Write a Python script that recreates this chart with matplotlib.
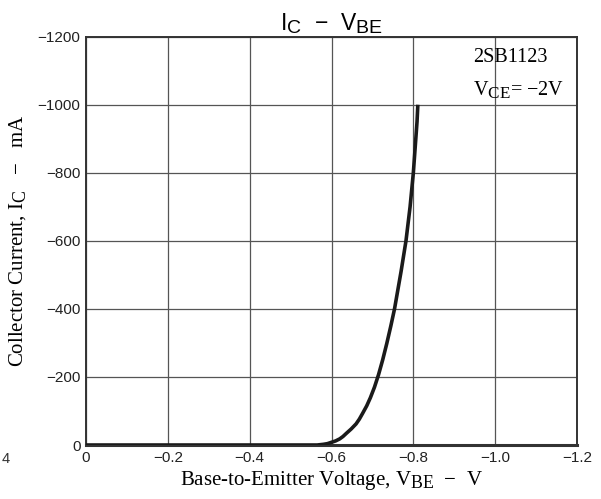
import matplotlib
matplotlib.use('Agg')
import matplotlib.pyplot as plt
import matplotlib._mathtext as mathtext_mod

# datasheet subscripts are only slightly smaller than the main text
mathtext_mod.SHRINK_FACTOR = 0.85

# values (V_BE in V, I_C in mA)
vbe = [0, -0.30, -0.565, -0.58, -0.59, -0.60, -0.61, -0.62, -0.628, -0.636, -0.648,
       -0.66, -0.668, -0.676, -0.686, -0.695, -0.705, -0.715, -0.725, -0.735,
       -0.745, -0.754, -0.762, -0.77, -0.776, -0.782, -0.787, -0.792, -0.796,
       -0.80, -0.803, -0.806, -0.809, -0.811]
ic = [0, 0, 0, -2, -4, -8, -12, -18, -25, -34, -47,
      -62, -76, -93, -115, -139, -170, -207, -250, -298,
      -350, -400, -455, -510, -555, -600, -650, -700, -750,
      -800, -850, -900, -950, -1000]

xticks = [0, -0.2, -0.4, -0.6, -0.8, -1.0, -1.2]
xlabels = ['0', '\u22120.2', '\u22120.4', '\u22120.6', '\u22120.8', '\u22121.0', '\u22121.2']
yticks = [0, -200, -400, -600, -800, -1000, -1200]
ylabels = ['0', '\u2212200', '\u2212400', '\u2212600', '\u2212800', '\u22121000', '\u22121200']

plt.rcParams['mathtext.fontset'] = 'custom'
plt.rcParams['mathtext.rm'] = 'Liberation Serif'
plt.rcParams['mathtext.sf'] = 'Liberation Sans'
plt.rcParams['font.family'] = ['Liberation Sans', 'DejaVu Sans']

fig = plt.figure(figsize=(6.01, 4.99), dpi=100)
ax = fig.add_axes([0.1431, 0.1082, 0.8170, 0.8183])

ax.plot(vbe, ic, color='#1a1a1a', lw=2.6, solid_capstyle='butt',
        solid_joinstyle='round', zorder=3)

ax.set_xlim(0, -1.2)
ax.set_ylim(0, -1200)
ax.set_xticks(xticks)
ax.set_xticklabels(xlabels)
ax.set_yticks(yticks)
ax.set_yticklabels(ylabels)
ax.tick_params(length=0, labelsize=11, colors='#222222', pad=4)
ax.grid(True, color='#555555', lw=0.9)
for s in ax.spines.values():
    s.set_color('#333333')
    s.set_linewidth(1.4)
ax.spines['bottom'].set_linewidth(2.2)

serif = ['Liberation Serif', 'DejaVu Serif']
ax.set_xlabel('Base-to-Emitter Voltage, V$\\mathrm{_{BE}}$  \u2212  V',
              family=serif, fontsize=15, labelpad=3)
ax.set_ylabel('Collector Current, I$\\mathrm{_C}$   \u2212   mA', family=serif,
              fontsize=15, labelpad=7)
ax.set_title('I$\\mathsf{_C}$  \u2212  V$\\mathsf{_{BE}}$', fontsize=16.5, pad=5)

ax.text(0.788, 0.939, '2SB1123', transform=ax.transAxes, ha='left', va='baseline',
        family=serif, fontsize=14.5)
ax.text(0.788, 0.858, 'V$\\mathrm{_{CE}}$= \u22122V', transform=ax.transAxes, ha='left',
        va='baseline', family=serif, fontsize=14.5)

fig.text(0.002, 0.072, '4', fontsize=10.5, color='#333333')

plt.savefig('out.png', dpi=100)
